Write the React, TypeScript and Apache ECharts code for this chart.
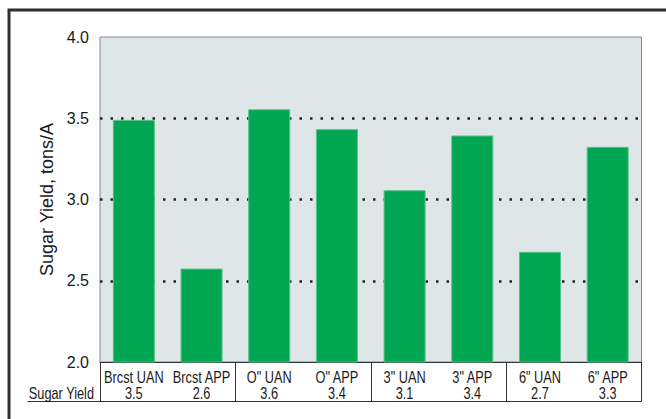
import React, { useEffect, useRef } from "react";
import * as echarts from "echarts";

const categories = ["Brcst UAN", "Brcst APP", "O\" UAN", "O\" APP", "3\" UAN", "3\" APP", "6\" UAN", "6\" APP"];
const sugarYield = [3.49, 2.575, 3.555, 3.433, 3.057, 3.394, 2.678, 3.324];
const tableValues = ["3.5", "2.6", "3.6", "3.4", "3.1", "3.4", "2.7", "3.3"];
const tableRowLabel = "Sugar Yield";
const yTicks = { min: 2, max: 4, interval: 0.5 };

const W = 666;
const H = 419;
const GRID_LEFT = 100;
const GRID_RIGHT = 24.5;
const GRID_TOP = 37;
const GRID_HEIGHT = 325;
const TABLE_H = 39.5;
const SANS = "Liberation Sans, Arial, Helvetica, sans-serif";
const SQUEEZE = 0.75;

export default function App() {
  const ref = useRef<HTMLDivElement>(null);
  useEffect(() => {
    if (!ref.current) return;
    const chart = echarts.init(ref.current, null, { renderer: "svg", width: W, height: H });
    chart.setOption({
      animation: false,
      backgroundColor: "#ffffff",
      grid: {
        left: GRID_LEFT,
        right: GRID_RIGHT,
        top: GRID_TOP,
        height: GRID_HEIGHT,
        show: true,
        backgroundColor: "#dfe6e8",
        borderColor: "#8a8a8a",
        borderWidth: 1,
      },
      xAxis: {
        type: "category",
        data: categories,
        axisLine: { show: true, lineStyle: { color: "#333", width: 1 } },
        axisTick: { show: true, length: TABLE_H, lineStyle: { color: "#333", width: 1 } },
        axisLabel: { show: false },
      },
      yAxis: {
        type: "value",
        min: yTicks.min,
        max: yTicks.max,
        interval: yTicks.interval,
        name: "Sugar Yield, tons/A",
        nameLocation: "middle",
        nameGap: 40,
        nameTextStyle: { fontFamily: SANS, fontSize: 18, color: "#1a1a1a" },
        axisLine: { show: false },
        axisTick: { show: false },
        axisLabel: {
          fontFamily: SANS,
          fontSize: 16,
          color: "#1a1a1a",
          margin: 11,
          formatter: (v: number) => v.toFixed(1),
        },
        splitLine: {
          show: true,
          lineStyle: {
            color: ["transparent", "#222", "#222", "#222", "transparent"],
            width: 2.5,
            type: [2.5, 8],
          },
        },
      },
      series: [
        {
          type: "bar",
          data: sugarYield,
          barWidth: 42,
          itemStyle: { color: "#00a651", borderColor: "#55c285", borderWidth: 1 },
        },
      ],
    });

    const axisY = chart.convertToPixel({ yAxisIndex: 0 }, yTicks.min) as number;
    const tableBottom = axisY + TABLE_H;
    const row1 = axisY + 14.5;
    const row2 = axisY + 31;
    const textStyle = (text: string, align: string) => ({
      text,
      fill: "#1a1a1a",
      font: `17px ${SANS}`,
      textAlign: align,
      textVerticalAlign: "middle",
    });
    const labels: any[] = [];
    categories.forEach((c, i) => {
      const cx = chart.convertToPixel({ xAxisIndex: 0 }, c) as number;
      labels.push({ type: "text", x: cx, y: row1, scaleX: SQUEEZE, style: textStyle(c, "center"), silent: true });
      labels.push({ type: "text", x: cx, y: row2, scaleX: SQUEEZE, style: textStyle(tableValues[i], "center"), silent: true });
    });
    labels.push({
      type: "text",
      x: GRID_LEFT - 6,
      y: row2,
      scaleX: SQUEEZE,
      style: textStyle(tableRowLabel, "right"),
      silent: true,
    });

    chart.setOption({
      graphic: [
        {
          type: "rect",
          shape: { x: 9, y: 10, width: 720, height: 520 },
          style: { fill: "none", stroke: "#2e2e2e", lineWidth: 3 },
          silent: true,
        },
        {
          type: "line",
          shape: { x1: 27.5, y1: tableBottom, x2: W - GRID_RIGHT, y2: tableBottom },
          style: { stroke: "#333", lineWidth: 1 },
          silent: true,
        },
        ...labels,
      ],
    });
    return () => chart.dispose();
  }, []);
  return (
    <div
      ref={ref}
      style={{ position: "fixed", left: 0, top: 0, width: W, height: H, background: "#fff" }}
    />
  );
}
